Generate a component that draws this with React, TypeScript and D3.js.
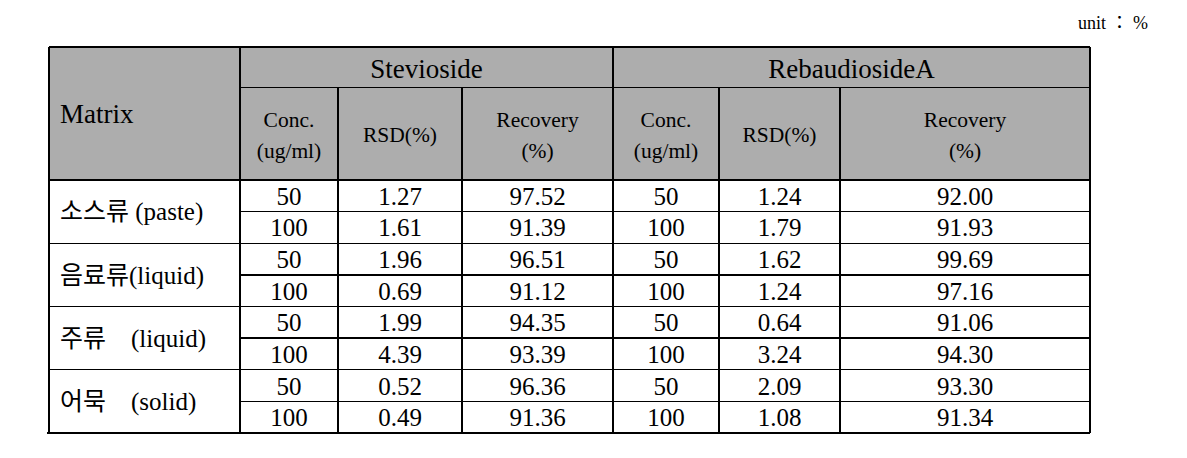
import * as d3 from 'd3';

const matrices = ['소스류 (paste)', '음료류(liquid)', '주류　(liquid)', '어묵　(solid)'];
const concs = [50, 100];
const compounds = ['Stevioside', 'RebaudiosideA'];
const subHeaders = [['Conc.', '(ug/ml)'], ['RSD(%)'], ['Recovery', '(%)']];
const steviosideRSD = [1.27, 1.61, 1.96, 0.69, 1.99, 4.39, 0.52, 0.49];
const steviosideRecovery = [97.52, 91.39, 96.51, 91.12, 94.35, 93.39, 96.36, 91.36];
const rebaudiosideRSD = [1.24, 1.79, 1.62, 1.24, 0.64, 3.24, 2.09, 1.08];
const rebaudiosideRecovery = [92.0, 91.93, 99.69, 97.16, 91.06, 94.3, 93.3, 91.34];

const W = 1187;
const H = 458;
const colEdges = [49, 240, 338, 462, 613, 719, 840, 1090];
const top = 47;
const headSplit = 87.5;
const headBottom = 180;
const bottom = 433;
const fill = '#adadad';
const font = '"Liberation Serif", "Noto Sans CJK KR", serif';

export default function App() {
  const nRows = matrices.length * concs.length;
  const y = d3.scaleBand<number>().domain(d3.range(nRows)).range([headBottom, bottom]);
  const rh = y.bandwidth();

  const rows = d3.range(nRows).map((i) => {
    const c = concs[i % concs.length];
    return [
      String(c), steviosideRSD[i].toFixed(2), steviosideRecovery[i].toFixed(2),
      String(c), rebaudiosideRSD[i].toFixed(2), rebaudiosideRecovery[i].toFixed(2),
    ];
  });

  const line = { stroke: '#000', strokeWidth: 1.4, shapeRendering: 'crispEdges' as const };
  const cx = (j: number) => (colEdges[j] + colEdges[j + 1]) / 2;

  return (
    <svg width={W} height={H} style={{ position: 'absolute', left: 0, top: 0, background: '#fff' }}
      fontFamily={font} fill="#000">
      <text x={1148} y={29} fontSize={18} textAnchor="end">unit ： %</text>

      {/* header background */}
      <rect x={colEdges[0]} y={top} width={colEdges[7] - colEdges[0]} height={headBottom - top} fill={fill} />

      <text x={60} y={(top + headBottom) / 2} dy="0.35em" fontSize={27}>Matrix</text>

      {compounds.map((c, k) => {
        const x0 = colEdges[1 + k * 3];
        const x1 = colEdges[4 + k * 3];
        return (
          <text key={c} x={(x0 + x1) / 2} y={(top + headSplit) / 2 + 1} dy="0.35em" fontSize={27} textAnchor="middle">{c}</text>
        );
      })}

      {compounds.map((c, k) =>
        subHeaders.map((lines, s) => {
          const j = 1 + k * 3 + s;
          const mid = (headSplit + headBottom) / 2 + 1;
          return lines.map((t, li) => (
            <text key={`${c}${s}${li}`} x={cx(j)} y={mid + (li - (lines.length - 1) / 2) * 31} dy="0.35em"
              fontSize={21.5} textAnchor="middle">{t}</text>
          ));
        })
      )}

      {matrices.map((m, i) => (
        <text key={m} x={60} y={(y(i * 2)! + y(i * 2 + 1)! + rh) / 2} dy="0.35em" fontSize={25}
          style={{ whiteSpace: 'pre' }}>{m}</text>
      ))}

      {rows.map((r, i) =>
        r.map((v, j) => (
          <text key={`${i}-${j}`} x={cx(j + 1)} y={y(i)! + rh / 2} dy="0.36em" fontSize={25} textAnchor="middle">{v}</text>
        ))
      )}

      {/* grid */}
      <g fill="none">
        <line x1={colEdges[0]} x2={colEdges[7]} y1={top} y2={top} {...line} />
        <line x1={colEdges[1]} x2={colEdges[7]} y1={headSplit} y2={headSplit} {...line} />
        <line x1={colEdges[0]} x2={colEdges[7]} y1={headBottom} y2={headBottom} {...line} />
        {d3.range(1, nRows).map((i) => (
          <line key={`h${i}`} x1={i % 2 === 0 ? colEdges[0] : colEdges[1]} x2={colEdges[7]}
            y1={y(i)} y2={y(i)} {...line} />
        ))}
        <line x1={colEdges[0] - 2} x2={colEdges[7]} y1={bottom} y2={bottom} {...line} />
        {colEdges.map((x, j) => (
          <line key={`v${j}`} x1={x} x2={x} y1={j === 2 || j === 3 || j === 5 || j === 6 ? headSplit : top} y2={bottom} {...line} />
        ))}
      </g>
    </svg>
  );
}
